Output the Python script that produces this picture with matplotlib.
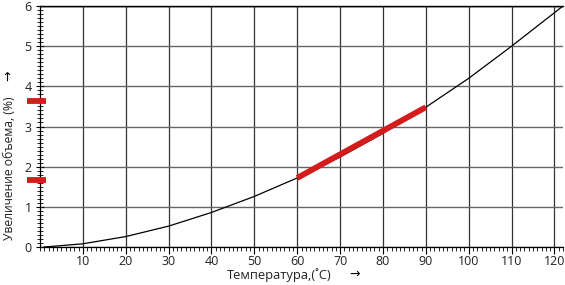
import numpy as np
import matplotlib.pyplot as plt
from matplotlib.ticker import MultipleLocator

plt.rcParams['font.family'] = ['Open Sans', 'DejaVu Sans']

# curve
temp = [1, 10, 20, 30, 40, 50, 60, 70, 80, 90, 100, 110, 122]
expansion = [0.0, 0.08, 0.26, 0.52, 0.86, 1.26, 1.72, 2.24, 2.83, 3.48, 4.2, 5.0, 6.0]

# highlighted range
red_x = [60, 90]
red_y = [1.72, 3.48]
# marks on the y axis
marks_y = [3.63, 1.67]

red = '#d41c1c'

fig = plt.figure(figsize=(5.65, 2.85), dpi=100)
ax = fig.add_axes([0.0708, 0.1333, 0.9257, 0.8456])

ax.plot(temp, expansion, color='black', lw=0.9, zorder=3)
ax.plot(red_x, red_y, color=red, lw=4.2, solid_capstyle='butt', zorder=4)

for m in marks_y:
    ax.plot([-0.025, 0.0115], [m, m], color=red, lw=4.2, transform=ax.get_yaxis_transform(),
            clip_on=False, solid_capstyle='butt', zorder=5)

ax.set_xlim(0, 122)
ax.set_ylim(0, 6)
ax.set_xticks(np.arange(10, 121, 10))
ax.set_yticks(np.arange(0, 7, 1))
ax.xaxis.set_minor_locator(MultipleLocator(1))
ax.yaxis.set_minor_locator(MultipleLocator(0.1))

ax.tick_params(axis='x', which='major', direction='out', length=5, width=0.8, labelsize=9, pad=1)
ax.tick_params(axis='x', which='minor', direction='out', length=3, width=0.6)
ax.tick_params(axis='y', which='major', direction='inout', length=6, width=0.8, labelsize=9, pad=3)
ax.tick_params(axis='y', which='minor', direction='inout', length=4, width=0.6)
for lab in ax.get_xticklabels() + ax.get_yticklabels():
    lab.set_color('#222222')

ax.grid(True, which='major', axis='x', color='#333333', lw=0.9)
ax.grid(True, which='major', axis='y', color='#666666', lw=1.0)
ax.axhline(6, color='black', lw=1.0)
ax.set_axisbelow(True)

ax.spines['right'].set_visible(False)
ax.spines['top'].set_linewidth(1.0)
ax.spines['left'].set_linewidth(0.9)
ax.spines['bottom'].set_linewidth(0.9)

fig.text(0.402, 0.02, 'Температура,(˚C)', fontsize=9.3, color='#222222')
fig.text(0.618, 0.025, '→', fontsize=9, color='black')
fig.text(0.005, 0.41, 'Увеличение объема, (%)', fontsize=8.7, color='#222222',
         rotation=90, va='center')
fig.text(0.004, 0.725, '→', fontsize=9, color='black', rotation=90)

fig.savefig('out.png', dpi=100)
